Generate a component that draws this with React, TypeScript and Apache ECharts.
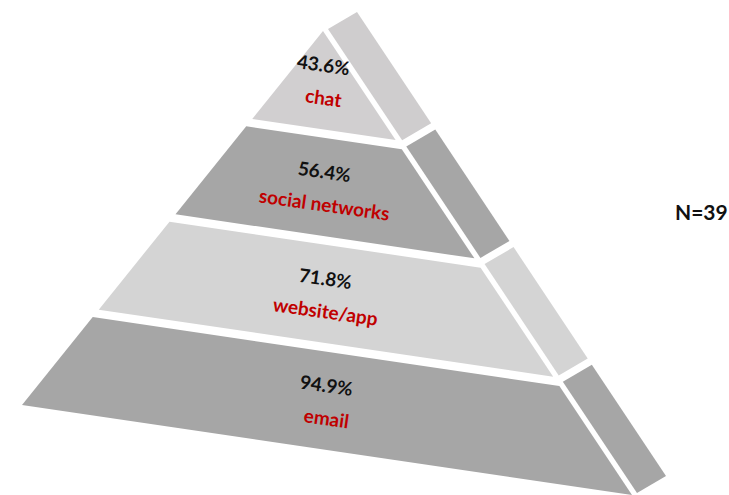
import React, { useEffect, useRef } from "react";
import * as echarts from "echarts";

// ---- data ----
const categories = ["chat", "social networks", "website/app", "email"];
const percentages = [43.6, 56.4, 71.8, 94.9];
const sampleSize = 39;

// ---- styling ----
const frontFills = ["#d1cfd0", "#a6a6a6", "#d4d4d4", "#a6a6a6"];
const sideFills = ["#cfcdce", "#a6a6a6", "#d4d4d4", "#a6a6a6"];

// ---- pyramid geometry (layout, in pixel units of the hidden grid) ----
const W = 729;
const H = 495;
const APEX = [323, 31];
const BASE_L = [22, 405];
const BASE_R = [632, 495];
const SIDE_OFFSET = [5, -2];
const DEPTH = [29, -17];
const LAYER_H = 0.235;
const LAYER_GAP = (1 - 4 * LAYER_H) / 3;
const SIDE_H = 0.24;
const SIDE_GAP = (1 - 4 * SIDE_H) / 3;
const TEXT_ROT = -0.14;

function frontPt(h: number, w: number): number[] {
  return [
    APEX[0] + h * (BASE_L[0] - APEX[0] + w * (BASE_R[0] - BASE_L[0])),
    APEX[1] + h * (BASE_L[1] - APEX[1] + w * (BASE_R[1] - BASE_L[1])),
  ];
}

export default function App() {
  const ref = useRef<HTMLDivElement>(null);
  useEffect(() => {
    if (!ref.current) return;
    const chart = echarts.init(ref.current, undefined, { renderer: "svg" });
    const renderItem = (params: any, api: any) => {
      const i = params.dataIndex;
      const c = (p: number[]) => api.coord(p);
      const h0 = i * (LAYER_H + LAYER_GAP);
      const h1 = h0 + LAYER_H;
      const front = [frontPt(h0, 0), frontPt(h0, 1), frontPt(h1, 1), frontPt(h1, 0)].map(c);
      const s0 = i * (SIDE_H + SIDE_GAP);
      const s1 = s0 + SIDE_H;
      const in0 = frontPt(s0, 1).map((v, k) => v + SIDE_OFFSET[k]);
      const in1 = frontPt(s1, 1).map((v, k) => v + SIDE_OFFSET[k]);
      const side = [
        in0,
        in0.map((v, k) => v + DEPTH[k]),
        in1.map((v, k) => v + DEPTH[k]),
        in1,
      ].map(c);
      const mid = frontPt((h0 + h1) / 2, 0.5);
      const pctPos = c([mid[0], mid[1] - 16]);
      const lblPos = c([mid[0], mid[1] + 17]);
      const val = api.value(1);
      return {
        type: "group",
        children: [
          { type: "polygon", shape: { points: front }, style: { fill: frontFills[i] } },
          { type: "polygon", shape: { points: side }, style: { fill: sideFills[i] } },
          {
            type: "text",
            x: pctPos[0],
            y: pctPos[1],
            rotation: TEXT_ROT,
            style: {
              text: val.toFixed(1) + "%",
              fill: "#111111",
              font: "bold 19px Lato",
              align: "center",
              verticalAlign: "middle",
              textAlign: "center",
              textVerticalAlign: "middle",
            },
          },
          {
            type: "text",
            x: lblPos[0],
            y: lblPos[1],
            rotation: TEXT_ROT,
            style: {
              text: categories[i],
              fill: "#c00000",
              font: "bold 19px Lato",
              align: "center",
              verticalAlign: "middle",
              textAlign: "center",
              textVerticalAlign: "middle",
            },
          },
        ],
      };
    };
    chart.setOption({
      animation: false,
      title: {
        text: "N=" + sampleSize,
        left: 670,
        top: 196,
        textStyle: { fontFamily: "Lato", fontWeight: "bold", fontSize: 21, color: "#111111" },
      },
      grid: { left: 0, right: 0, top: 0, bottom: 0 },
      xAxis: { type: "value", min: 0, max: W, show: false },
      yAxis: { type: "value", min: 0, max: H, inverse: true, show: false },
      series: [
        {
          type: "custom",
          silent: true,
          clip: false,
          renderItem,
          data: categories.map((_, i) => [i, percentages[i]]),
        },
      ],
    });
    return () => chart.dispose();
  }, []);
  return (
    <div
      ref={ref}
      style={{ position: "fixed", left: 0, top: 0, width: W, height: H, background: "#ffffff" }}
    />
  );
}
